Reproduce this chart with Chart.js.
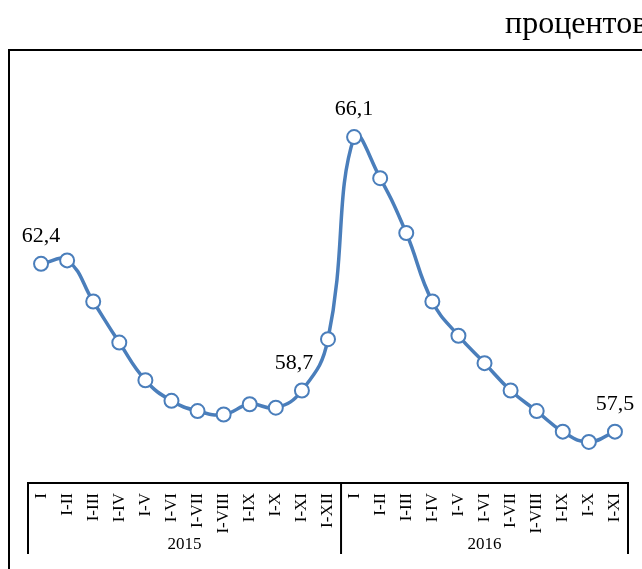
<!DOCTYPE html>
<html>
<head>
<meta charset="utf-8">
<script src="https://cdn.jsdelivr.net/npm/chart.js@4"></script>
<style>
  body{margin:0;background:#fff;}
  #wrap{width:642px;height:569px;}
</style>
</head>
<body>
<div id="wrap"><canvas id="myChart" width="642" height="569"></canvas></div>
<script>
// ---------- DATA ----------
const months2015 = ["I","I-II","I-III","I-IV","I-V","I-VI","I-VII","I-VIII","I-IX","I-X","I-XI","I-XII"];
const months2016 = ["I","I-II","I-III","I-IV","I-V","I-VI","I-VII","I-VIII","I-IX","I-X","I-XI"];
const years = ["2015","2016"];
const values = [62.4,62.5,61.3,60.1,59.0,58.4,58.1,58.0,58.3,58.2,58.7,60.2,
                66.1,64.9,63.3,61.3,60.3,59.5,58.7,58.1,57.5,57.2,57.5];
const labelled = [0,10,12,22]; // points that show their value
const unitText = "процентов";

const labels = months2015.concat(months2016);
const groupSizes = [months2015.length, months2016.length];
const serif = "'Liberation Serif', 'Times New Roman', serif";

// ---------- FRAME + TITLE ----------
const framePlugin = {
  id:"frame",
  beforeDraw(chart){
    const ctx = chart.ctx;
    ctx.save();
    ctx.strokeStyle = "#000";
    ctx.lineWidth = 2;
    ctx.beginPath();
    ctx.moveTo(9, chart.height);
    ctx.lineTo(9, 50);
    ctx.lineTo(chart.width, 50);
    ctx.stroke();
    ctx.fillStyle = "#000";
    ctx.font = "32px " + serif;
    ctx.textAlign = "left";
    ctx.textBaseline = "alphabetic";
    ctx.fillText(unitText, 505, 33);
    ctx.restore();
  }
};

// ---------- YEAR GROUPS UNDER THE AXIS ----------
const groupPlugin = {
  id:"groups",
  afterDraw(chart){
    const x = chart.scales.x;
    const ctx = chart.ctx;
    const bounds = [x.left];
    let idx = 0;
    groupSizes.forEach((n,i)=>{
      idx += n;
      if(i < groupSizes.length-1){
        bounds.push((x.getPixelForValue(idx-1)+x.getPixelForValue(idx))/2);
      } else bounds.push(x.right);
    });
    ctx.save();
    ctx.strokeStyle = "#000";
    ctx.lineWidth = 2;
    bounds.forEach(b=>{
      ctx.beginPath();
      ctx.moveTo(b, x.top);
      ctx.lineTo(b, x.top + 71);
      ctx.stroke();
    });
    ctx.fillStyle = "#000";
    ctx.font = "17px " + serif;
    ctx.textAlign = "center";
    ctx.textBaseline = "middle";
    years.forEach((y,i)=>{
      ctx.fillText(y, (bounds[i]+bounds[i+1])/2, x.top + 62);
    });
    ctx.restore();
  }
};

// ---------- VALUE LABELS ----------
const valuePlugin = {
  id:"values",
  afterDatasetsDraw(chart){
    const meta = chart.getDatasetMeta(0);
    const ctx = chart.ctx;
    ctx.save();
    ctx.fillStyle = "#000";
    ctx.font = "22px " + serif;
    ctx.textAlign = "center";
    ctx.textBaseline = "alphabetic";
    labelled.forEach(i=>{
      const p = meta.data[i];
      const dx = i === 10 ? -8 : 0;
      ctx.fillText(values[i].toFixed(1).replace(".", ","), p.x + dx, p.y - 22);
    });
    ctx.restore();
  }
};

// ---------- CHART ----------
const ctx = document.getElementById("myChart").getContext("2d");
new Chart(ctx, {
  type:"line",
  data:{
    labels:labels,
    datasets:[{
      data:values,
      borderColor:"#4a7ebb",
      borderWidth:3.5,
      tension:0.45,
      pointRadius:7,
      pointBorderWidth:2,
      pointBackgroundColor:"#fff",
      pointBorderColor:"#4a7ebb"
    }]
  },
  options:{
    responsive:false,
    animation:false,
    layout:{padding:{top:72,left:28,right:14,bottom:0}},
    plugins:{legend:{display:false},tooltip:{enabled:false},title:{display:false}},
    scales:{
      x:{
        offset:true,
        grid:{display:false},
        border:{display:true,color:"#000",width:2},
        ticks:{
          autoSkip:false,
          minRotation:90,
          maxRotation:90,
          padding:2,
          color:"#000",
          font:{family:serif,size:17}
        },
        afterFit(scale){ scale.height = 86; }
      },
      y:{display:false,min:56,max:68}
    }
  },
  plugins:[framePlugin,groupPlugin,valuePlugin]
});
</script>
</body>
</html>
